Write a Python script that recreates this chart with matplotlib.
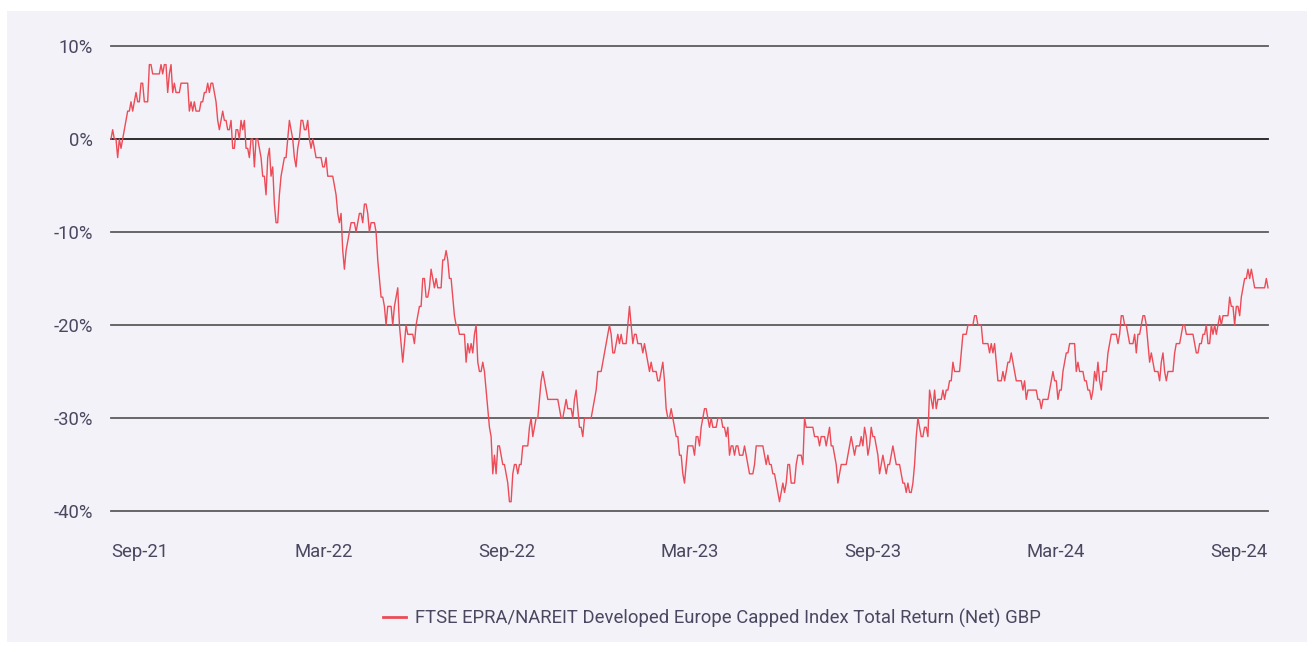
import numpy as np
import matplotlib.pyplot as plt
from matplotlib.patches import Rectangle

plt.rcParams["font.family"] = ["Roboto", "DejaVu Sans"]

# cumulative total return (%), evenly spaced observations Sep-21 .. Sep-24
returns = [
    0, 1, 0, 0, -2, 0, -1, 0, 1, 2, 3, 3, 4, 3, 4, 5, 4, 4, 6, 6,
    4, 4, 4, 8, 8, 7, 7, 7, 7, 7, 8, 7, 8, 8, 5, 7, 8, 5, 6, 5,
    5, 5, 6, 6, 6, 6, 6, 3, 4, 3, 4, 3, 3, 3, 4, 4, 5, 5, 6, 5,
    6, 6, 5, 4, 2, 1, 2, 3, 2, 2, 1, 1, 2, -1, -1, 1, 1, 0, 2, 1,
    2, -1, -1, -2, 0, 0, -3, 0, 0, -1, -2, -4, -4, -6, -2, -1, -4, -3, -7, -9,
    -9, -6, -4, -3, -2, -2, 0, 2, 1, 0, -2, -3, -1, 0, 2, 2, 1, 1, 2, 0,
    -1, 0, -1, -2, -2, -2, -2, -3, -3, -2, -4, -4, -4, -4, -5, -6, -8, -9, -8, -12,
    -14, -12, -11, -10, -9, -9, -9, -10, -9, -8, -8, -9, -7, -7, -8, -10, -9, -9, -9, -10,
    -13, -15, -17, -17, -18, -20, -18, -18, -18, -20, -18, -17, -16, -20, -22, -24, -22, -20, -21, -21,
    -21, -21, -22, -20, -19, -18, -18, -15, -15, -17, -17, -16, -14, -15, -16, -15, -16, -16, -16, -13,
    -13, -12, -13, -15, -15, -17, -19, -20, -20, -21, -21, -21, -21, -24, -22, -23, -22, -23, -21, -20,
    -24, -25, -25, -24, -25, -27, -29, -31, -32, -36, -34, -36, -33, -33, -34, -35, -35, -36, -37, -39,
    -39, -36, -35, -35, -36, -35, -35, -33, -33, -33, -33, -31, -30, -32, -31, -30, -30, -28, -26, -25,
    -26, -27, -28, -28, -28, -28, -28, -28, -28, -29, -30, -30, -29, -28, -29, -29, -29, -30, -28, -27,
    -29, -31, -31, -32, -30, -30, -30, -30, -30, -29, -28, -27, -25, -25, -25, -24, -23, -22, -21, -20,
    -21, -23, -23, -22, -21, -22, -21, -22, -22, -22, -20, -18, -20, -22, -21, -21, -22, -22, -22, -23,
    -22, -23, -24, -25, -24, -25, -25, -25, -26, -26, -25, -24, -26, -29, -30, -30, -29, -30, -31, -32,
    -32, -34, -34, -36, -37, -35, -33, -33, -33, -33, -34, -32, -32, -33, -31, -30, -29, -29, -30, -31,
    -30, -31, -31, -31, -30, -30, -30, -31, -31, -32, -31, -34, -33, -33, -34, -33, -33, -34, -34, -34,
    -33, -34, -35, -36, -36, -36, -35, -33, -33, -33, -33, -33, -34, -35, -34, -35, -35, -36, -36, -37,
    -38, -39, -38, -37, -38, -37, -35, -35, -37, -37, -37, -35, -34, -34, -34, -35, -30, -31, -31, -31,
    -31, -31, -32, -32, -32, -33, -32, -32, -32, -33, -32, -31, -33, -33, -34, -35, -37, -36, -35, -35,
    -35, -35, -34, -33, -32, -33, -34, -33, -33, -33, -32, -33, -31, -32, -34, -33, -31, -32, -32, -33,
    -34, -36, -35, -34, -35, -36, -35, -35, -34, -33, -34, -35, -35, -35, -36, -37, -37, -38, -37, -38,
    -38, -37, -35, -32, -30, -31, -32, -32, -31, -31, -32, -27, -28, -29, -27, -29, -28, -28, -28, -27,
    -28, -27, -27, -26, -26, -24, -25, -25, -25, -25, -23, -21, -21, -21, -20, -20, -20, -20, -19, -19,
    -20, -20, -20, -22, -22, -22, -22, -23, -22, -23, -22, -24, -26, -26, -26, -25, -26, -25, -24, -24,
    -23, -24, -25, -26, -26, -26, -26, -27, -26, -28, -27, -27, -27, -27, -27, -27, -28, -28, -29, -28,
    -28, -28, -28, -27, -26, -25, -26, -26, -28, -27, -27, -25, -24, -23, -23, -22, -22, -22, -22, -25,
    -24, -25, -25, -25, -26, -26, -27, -27, -28, -27, -25, -26, -24, -26, -27, -25, -25, -25, -23, -22,
    -21, -21, -21, -21, -22, -21, -19, -19, -20, -20, -21, -22, -22, -22, -21, -23, -21, -21, -20, -19,
    -19, -20, -22, -24, -23, -24, -25, -25, -25, -26, -24, -23, -25, -26, -25, -25, -25, -25, -23, -22,
    -22, -22, -21, -20, -20, -21, -21, -21, -21, -21, -22, -23, -23, -22, -22, -21, -21, -20, -22, -22,
    -20, -21, -20, -21, -20, -19, -20, -19, -19, -19, -19, -17, -18, -18, -20, -18, -18, -19, -17, -16,
    -15, -15, -14, -15, -14, -15, -16, -16, -16, -16, -16, -16, -16, -15, -16,
]

tick_labels = ["Sep-21", "Mar-22", "Sep-22", "Mar-23", "Sep-23", "Mar-24", "Sep-24"]
y_ticks = [10, 0, -10, -20, -30, -40]
series_name = "FTSE EPRA/NAREIT Developed Europe Capped Index Total Return (Net) GBP"

text_color = "#4a4860"
line_color = "#ec4b57"
font_size = 13.3

fig = plt.figure(figsize=(13.10, 6.46), dpi=100, facecolor="white")
fig.patches.append(
    Rectangle((7 / 1310, 4 / 646), 1300 / 1310, 631 / 646,
              transform=fig.transFigure, facecolor="#f3f2f8",
              edgecolor="none", zorder=-10)
)

ax = fig.add_axes([111 / 1310, 135 / 646, 1157 / 1310, 465 / 646])
ax.set_facecolor("none")

x = np.arange(len(returns))
line, = ax.plot(x, returns, color=line_color, linewidth=1.0,
                label=series_name, zorder=3, clip_on=False)

ax.set_xlim(0, len(returns) - 1)
ax.set_ylim(-40, 10)

for v in y_ticks:
    ax.axhline(v, color="#1e1e1e" if v == 0 else "#5c5c5c",
               linewidth=1.3, zorder=2, clip_on=False)

ax.set_yticks(y_ticks)
ax.set_yticklabels([f"{v}%" for v in y_ticks])

span = len(returns) - 1
tick_pos = [(29 + 183.2 * k) / 1157 * span for k in range(len(tick_labels))]
ax.set_xticks(tick_pos)
ax.set_xticklabels(tick_labels)

ax.tick_params(axis="y", length=0, pad=13, labelsize=font_size, labelcolor=text_color)
ax.tick_params(axis="x", length=0, pad=23, labelsize=font_size, labelcolor=text_color)

for s in ax.spines.values():
    s.set_visible(False)

fig.legend(handles=[line], loc="center",
           bbox_to_anchor=(712 / 1310, 28 / 646),
           frameon=False, fontsize=font_size, labelcolor=text_color,
           handlelength=1.25, handletextpad=0.45)
for lh in fig.legends[0].get_lines():
    lh.set_linewidth(2.0)

fig.savefig("out.png", dpi=100, facecolor="white")
